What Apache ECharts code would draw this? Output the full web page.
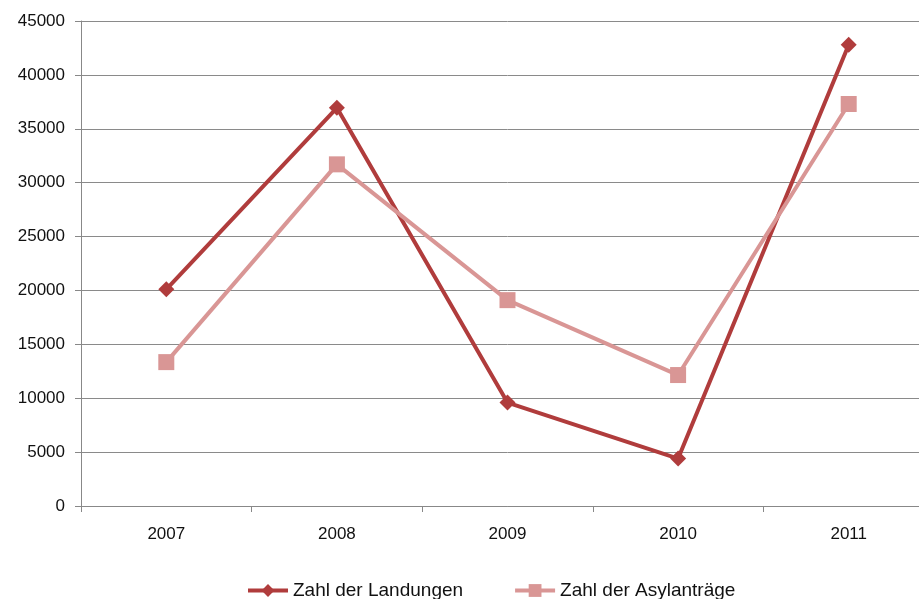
<!DOCTYPE html>
<html>
<head>
<meta charset="utf-8">
<script src="https://cdn.jsdelivr.net/npm/echarts@6/dist/echarts.min.js"></script>
<style>
html,body{margin:0;padding:0;background:#fff;overflow:hidden;}
#main{width:934px;height:599px;}
</style>
</head>
<body>
<div id="main"></div>
<script>
// data
var years = ['2007', '2008', '2009', '2010', '2011'];
var landungen = [20100, 36950, 9600, 4400, 42800];
var asylantraege = [13350, 31700, 19100, 12150, 37300];
var seriesNames = ['Zahl der Landungen', 'Zahl der Asylanträge'];

// chart is a bit wider than the window, the right edge is cut off like in the picture
var chart = echarts.init(document.getElementById('main'));
var fontFam = '"Liberation Sans", "DejaVu Sans", sans-serif';
var option = {
    backgroundColor: '#fff',
    animation: false,
    grid: {
        left: 81,
        top: 21,
        right: 0,
        bottom: 93,
        containLabel: false
    },
    legend: {
        top: 576,
        left: 241,
        itemWidth: 40,
        itemHeight: 16,
        itemGap: 50,
        lineStyle: {width: 4},
        textStyle: {fontSize: 19, color: '#111', fontFamily: fontFam},
        data: seriesNames
    },
    xAxis: {
        type: 'category',
        data: years,
        boundaryGap: true,
        axisLine: {lineStyle: {color: '#888', width: 1}},
        axisTick: {show: true, length: 6, lineStyle: {color: '#888'}},
        axisLabel: {fontSize: 17, color: '#111', margin: 20, fontFamily: fontFam}
    },
    yAxis: {
        type: 'value',
        min: 0,
        max: 45000,
        interval: 5000,
        axisLine: {show: true, lineStyle: {color: '#888', width: 1}},
        axisTick: {show: true, length: 6, lineStyle: {color: '#888'}},
        axisLabel: {fontSize: 17, color: '#111', margin: 16, fontFamily: fontFam,
            formatter: function (v) { return String(v); }},
        splitLine: {lineStyle: {color: '#8a8a8a', width: 1}}
    },
    series: [
        {
            name: seriesNames[0],
            type: 'line',
            data: landungen,
            symbol: 'diamond',
            symbolSize: 16,
            lineStyle: {color: '#B03C3C', width: 4},
            itemStyle: {color: '#B03C3C'}
        },
        {
            name: seriesNames[1],
            type: 'line',
            data: asylantraege,
            symbol: 'rect',
            symbolSize: 16,
            lineStyle: {color: '#D99695', width: 4},
            itemStyle: {color: '#D99695'}
        }
    ]
};
chart.setOption(option);
</script>
</body>
</html>
